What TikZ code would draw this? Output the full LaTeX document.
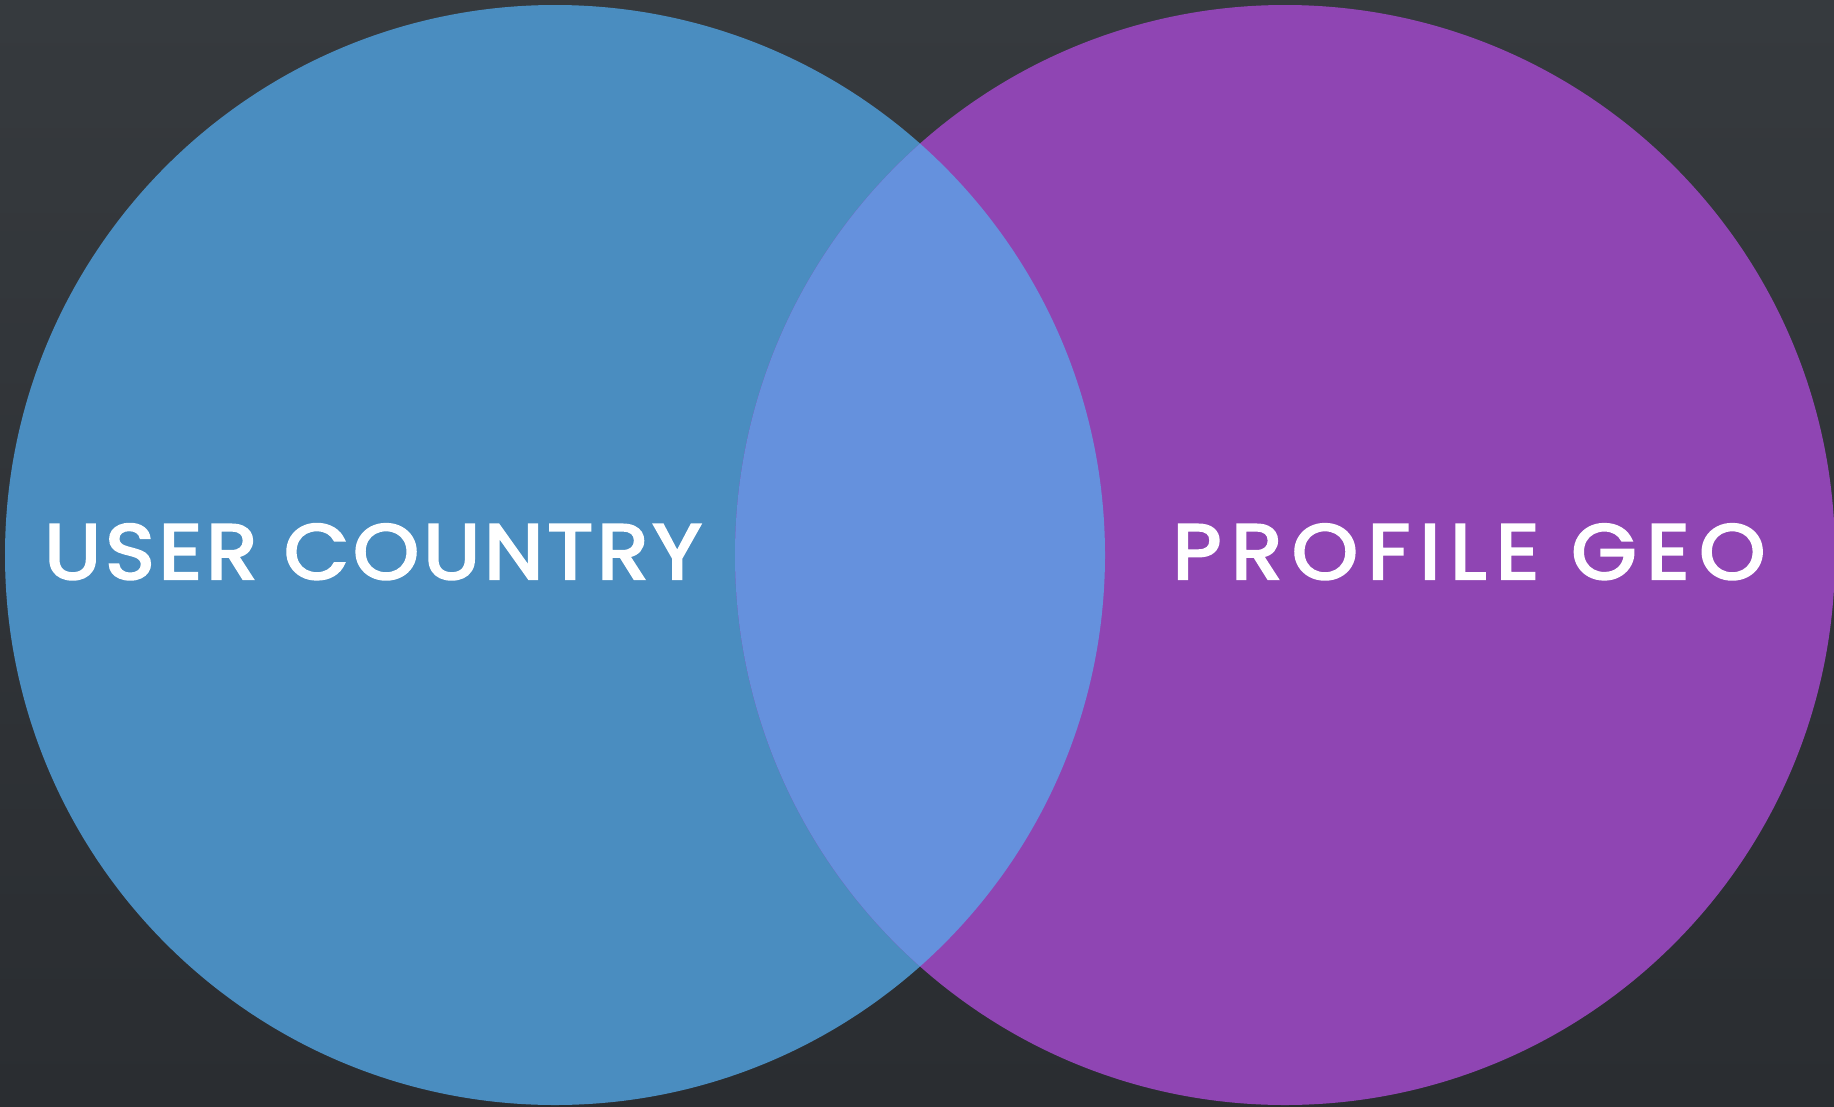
\documentclass[tikz,border=0pt]{standalone}
\usepackage{fontspec}
\setmainfont{Poppins}[LetterSpace=5,FakeBold=3]
\newfontfamily\widefont{Poppins}[LetterSpace=11.5,FakeBold=3]
\definecolor{bgtop}{HTML}{363A3E}
\definecolor{bgbot}{HTML}{2A2D31}
\definecolor{cblue}{HTML}{4A8DC0}
\definecolor{cpurple}{HTML}{8F45B3}
\definecolor{clens}{HTML}{6591DD}
\tikzset{
  lbl/.style={text=white, font=\fontsize{78}{80}\selectfont, inner sep=0pt, anchor=base, xscale=1.078},
}
\begin{document}
\begin{tikzpicture}[x=1pt,y=-1pt]
\useasboundingbox (0,0) rectangle (1834,1106);
\shade[top color=bgtop, bottom color=bgbot] (0,0) rectangle (1834,1106);
\fill[cblue] (555,555) circle[radius=550];
\fill[cpurple] (1285,555) circle[radius=550];
\begin{scope}
  \clip (555,555) circle[radius=550];
  \fill[clens] (1285,555) circle[radius=550];
\end{scope}
\node[lbl] (uc) at (373,579) {USER COUNTRY};
\node[lbl, font=\fontsize{78}{80}\widefont] (pg) at (1469,579) {PROFILE GEO};
\end{tikzpicture}
\end{document}
